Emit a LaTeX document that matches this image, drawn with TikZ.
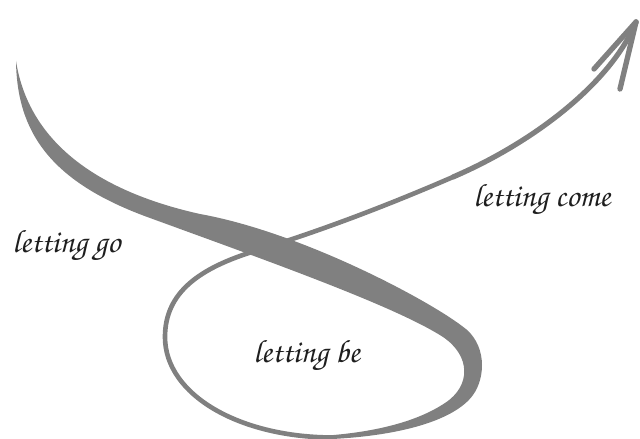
\documentclass[tikz,border=0pt]{standalone}
\usepackage[T1]{fontenc}
\definecolor{swgray}{RGB}{128,128,128}
\definecolor{txt}{RGB}{30,30,30}
\newcommand{\handfont}{\fontencoding{T1}\fontfamily{pzc}\fontseries{mb}\fontshape{it}\fontsize{23}{27}\selectfont}
\begin{document}
\begin{tikzpicture}[x=0.025cm,y=-0.025cm,
  swoosh/.style={fill=swgray, draw=none},
  thinline/.style={draw=swgray, line width=3.3pt, line cap=round, line join=round},
  barb/.style={draw=swgray, line width=3.8pt, line cap=round},
  lbl/.style={anchor=base west, inner sep=0pt, text=txt, font=\handfont}]
\useasboundingbox (0,0) rectangle (640,439);
% named points of the stroke
\coordinate (start) at (16,61);
\coordinate (loopL) at (165,337);
\coordinate (cross) at (255,251);
\coordinate (mid) at (453,177);
\coordinate (tip) at (636,22);
\coordinate (barbL) at (594,69);
\coordinate (barbR) at (620,89);
% thin loop and rising line
\draw[thinline] (335,437.5) .. controls (240,438) and (165,395) .. (loopL)
  .. controls (165,292) and (200,268) .. (cross)
  .. controls (330,228) and (400,200) .. (mid);
\draw[thinline, line width=3.7pt] (mid) .. controls (530,144) and (610,85) .. (tip);
% thick tapered swoosh
\fill[swoosh] (start) .. controls (17,132) and (50,182) .. (150,218)
  .. controls (265,260) and (395,306) .. (443,337)
  .. controls (471,356) and (471,386) .. (445,403)
  .. controls (415,423) and (370,433) .. (320,436)
  -- (320,439.5)
  .. controls (400,437) and (455,420) .. (473,395)
  .. controls (486,377) and (487,343) .. (462,326)
  .. controls (425,298) and (300,232) .. (200,214)
  .. controls (110,194) and (30,150) .. (start) -- cycle;
% arrow head
\draw[barb] (tip) -- (barbL);
\draw[barb] (tip) -- (barbR);
% labels
\node[lbl] (go) at (12,253) {letting go};
\node[lbl] (come) at (473,207) {letting come};
\node[lbl] (be) at (253,363) {letting be};
\end{tikzpicture}
\end{document}
